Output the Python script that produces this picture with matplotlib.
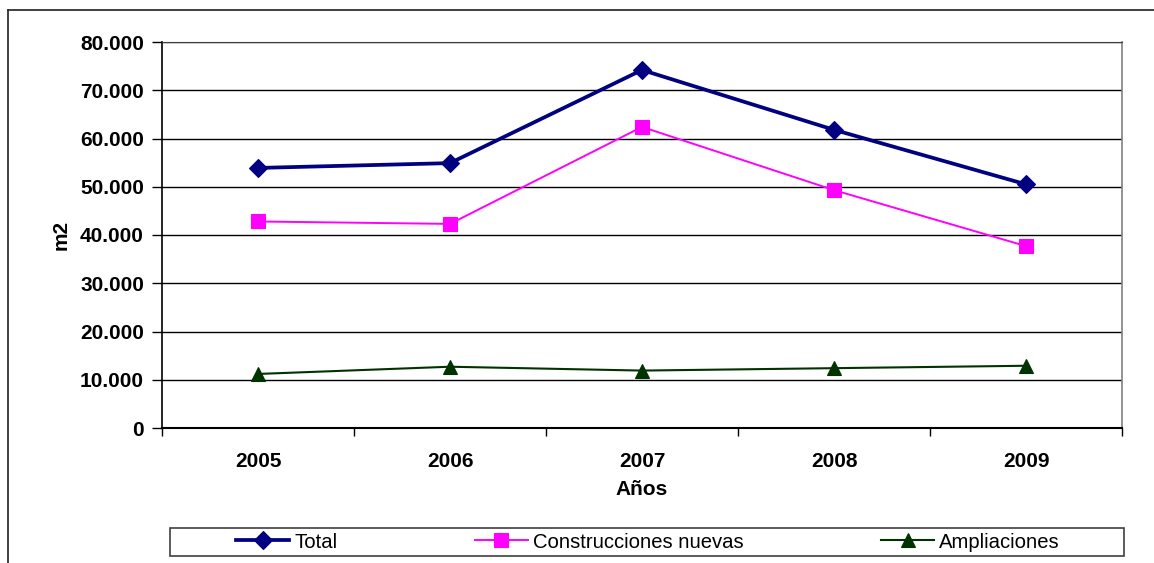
import matplotlib
matplotlib.use("Agg")
import matplotlib.pyplot as plt
from matplotlib.lines import Line2D
from matplotlib.patches import Rectangle
from matplotlib.ticker import FuncFormatter, FixedLocator

plt.rcParams["font.family"] = ["Liberation Sans", "DejaVu Sans"]

# ----------------------------------------------------------------------
# Data (m2 per year)
# ----------------------------------------------------------------------
years = ["2005", "2006", "2007", "2008", "2009"]
total = [53900, 54900, 74200, 61800, 50500]
nuevas = [42800, 42300, 62400, 49300, 37700]
ampliaciones = [11200, 12700, 11900, 12400, 12900]
y_ticks = [0, 10000, 20000, 30000, 40000, 50000, 60000, 70000, 80000]

W, H = 1154, 563
fig = plt.figure(figsize=(W / 100, H / 100), dpi=100)
fig.patch.set_facecolor("white")


def fx(px):
    return px / W


def fy(py):
    return 1 - py / H


ax = fig.add_axes([fx(162), fy(428), fx(1122) - fx(162), fy(42) - fy(428)])

x = list(range(len(years)))
ax.plot(x, total, color="#000080", linewidth=2.7, marker="D", markersize=9.3,
        markeredgewidth=0.8, label="Total", zorder=4)
ax.plot(x, nuevas, color="#FF00FF", linewidth=1.4, marker="s", markersize=9.5,
        markeredgewidth=0.8, label="Construcciones nuevas", zorder=3)
ax.plot(x, ampliaciones, color="#003300", linewidth=1.5, marker="^", markersize=9.5,
        markeredgewidth=0.8, label="Ampliaciones", zorder=3)

ax.set_xlim(-0.5, len(years) - 0.5)
ax.set_ylim(0, 80000)

# Y axis: thousands with a dot separator
ax.yaxis.set_major_locator(FixedLocator(y_ticks))
ax.yaxis.set_major_formatter(
    FuncFormatter(lambda v, _: "0" if v == 0 else f"{int(v):,}".replace(",", "."))
)
ax.tick_params(axis="y", direction="out", length=7, width=1, pad=6,
               labelsize=15, color="black")
for lab in ax.get_yticklabels():
    lab.set_fontweight("bold")

# X axis: ticks on category boundaries, labels centred
ax.xaxis.set_major_locator(FixedLocator([i - 0.5 for i in range(len(years) + 1)]))
ax.xaxis.set_minor_locator(FixedLocator(x))
ax.set_xticklabels([], minor=False)
ax.set_xticklabels(years, minor=True, fontsize=15, fontweight="bold")
ax.tick_params(axis="x", which="major", direction="out", length=6, width=1,
               color="black")
ax.tick_params(axis="x", which="minor", length=0, pad=17)

ax.grid(axis="y", color="black", linewidth=1, zorder=1)
ax.set_axisbelow(True)

ax.spines["left"].set_color("black")
ax.spines["bottom"].set_color("black")
ax.spines["left"].set_linewidth(1.2)
ax.spines["bottom"].set_linewidth(1.5)
ax.spines["top"].set_color("#404040")
ax.spines["right"].set_color("#808080")
ax.spines["right"].set_linewidth(1.2)

ax.set_xlabel("Años", fontsize=15, fontweight="bold", labelpad=7)
ax.set_ylabel("m2", fontsize=15, fontweight="bold", labelpad=6.5)

# Legend (frame drawn separately to match the wide box)
fig.patches.append(Rectangle((fx(170), fy(556)), fx(1124) - fx(170), fy(528) - fy(556),
                             transform=fig.transFigure, facecolor="white",
                             edgecolor="#404040", linewidth=1.2, zorder=0))
fig.legend(loc="center", bbox_to_anchor=(fx(648), fy(542)), ncol=3, frameon=False,
           fontsize=14.6, handlelength=2.6, handletextpad=0.25, columnspacing=6.8,
           borderaxespad=0, borderpad=0)

# Outer chart border (top and left edges visible)
fig.lines.append(Line2D([fx(8), 1], [fy(10), fy(10)], transform=fig.transFigure,
                        color="#303030", linewidth=1.3))
fig.lines.append(Line2D([fx(8), fx(8)], [fy(10), 0], transform=fig.transFigure,
                        color="#303030", linewidth=1.3))

fig.savefig("out.png", dpi=100)
